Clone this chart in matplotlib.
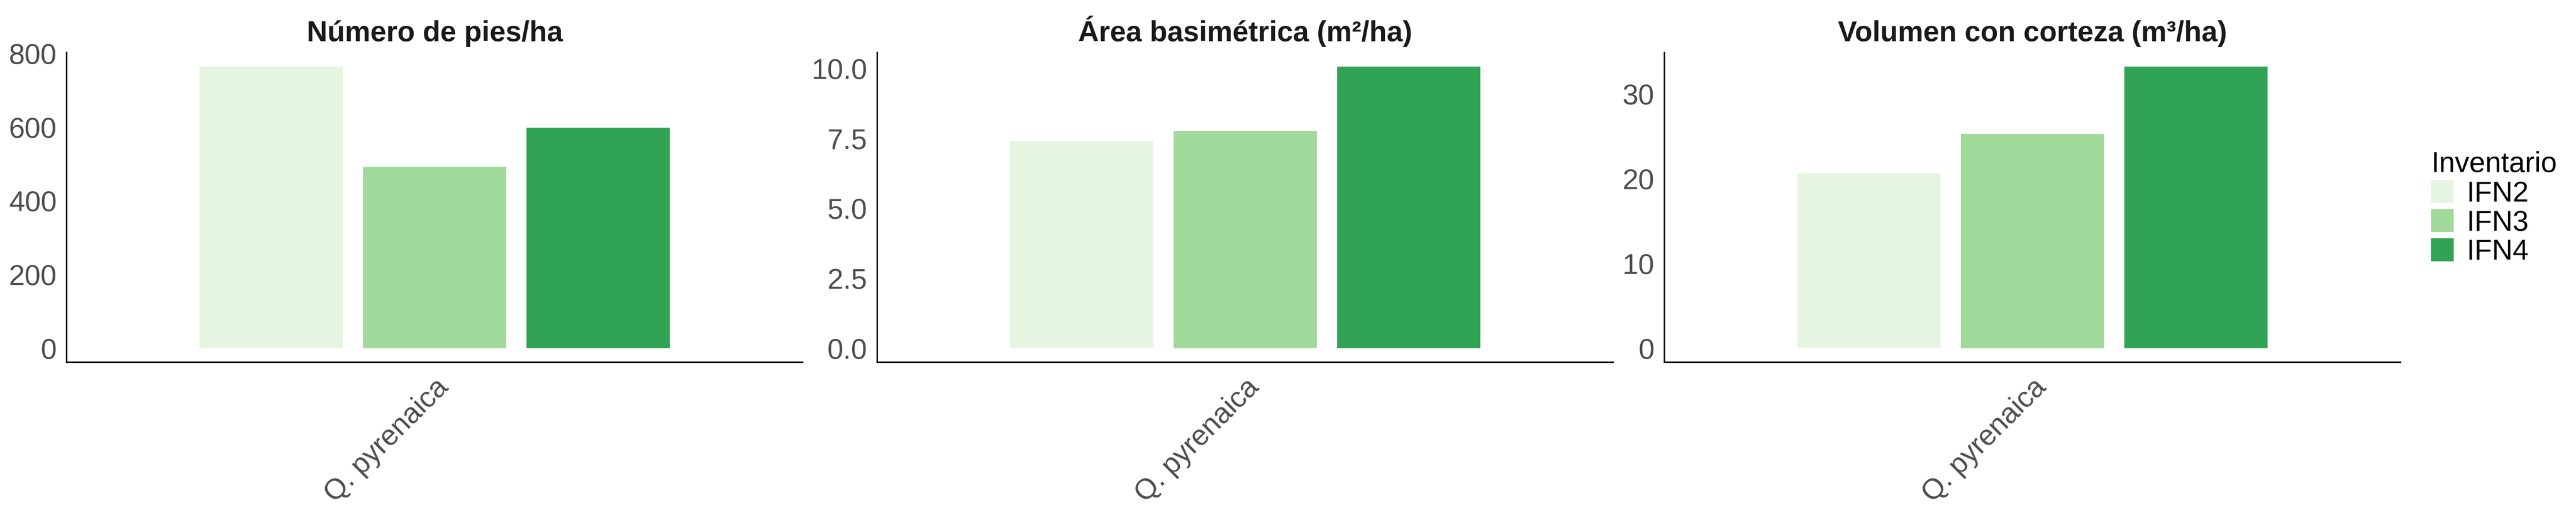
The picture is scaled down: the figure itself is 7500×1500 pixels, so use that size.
import matplotlib
matplotlib.use("Agg")
import matplotlib.pyplot as plt
from matplotlib.patches import Patch
import numpy as np


# =================================================
# DATA
# =================================================

especie = ["Q. pyrenaica"]
inventarios = ["IFN2", "IFN3", "IFN4"]
colores = ["#E5F5E0", "#A1D99B", "#31A354"]

titulos = [
    "Número de pies/ha",
    "Área basimétrica (m²/ha)",
    "Volumen con corteza (m³/ha)",
]

pies_ha = [764, 492, 598]
area_basimetrica = [7.41, 7.77, 10.07]
volumen_cc = [20.6, 25.25, 33.2]

yticks = [
    [0, 200, 400, 600, 800],
    [0.0, 2.5, 5.0, 7.5, 10.0],
    [0, 10, 20, 30],
]
ytick_labels = [
    ["0", "200", "400", "600", "800"],
    ["0.0", "2.5", "5.0", "7.5", "10.0"],
    ["0", "10", "20", "30"],
]


# =================================================
# STYLE
# =================================================

plt.rcParams["font.family"] = ["Liberation Sans", "DejaVu Sans"]

W, H = 7500, 1500
fig = plt.figure(figsize=(25, 5), dpi=300)

# panel positions (pixels in the 7500x1500 canvas)
lefts = [194, 2554, 4846]
panel_w = 2143
top_px, bottom_px = 153, 1055

dodge = 0.8
bar_w = 0.7 / len(inventarios)

series = [pies_ha, area_basimetrica, volumen_cc]

for i, values in enumerate(series):

    ax = fig.add_axes([
        lefts[i] / W,
        1 - bottom_px / H,
        panel_w / W,
        (bottom_px - top_px) / H,
    ])

    x = np.arange(len(especie))

    # -------------------------------------------------
    # dodged bars, one per inventario
    # -------------------------------------------------
    for j, (inv, col) in enumerate(zip(inventarios, colores)):
        offset = (j - (len(inventarios) - 1) / 2) * dodge / len(inventarios)
        ax.bar(x + offset, [values[j]], width=bar_w, color=col,
               label=inv, linewidth=0)

    vmax = max(values)
    ax.set_ylim(-0.05 * vmax, 1.05 * vmax)
    ax.set_xlim(-0.6, len(especie) - 0.4)

    ax.set_yticks(yticks[i])
    ax.set_yticklabels(ytick_labels[i])
    ax.set_xticks(x)
    ax.set_xticklabels(especie, rotation=45, ha="right", va="top",
                       rotation_mode="anchor")

    ax.tick_params(axis="both", length=0, labelsize=20,
                   labelcolor="#4D4D4D")
    ax.tick_params(axis="y", pad=7)
    ax.tick_params(axis="x", pad=8)

    # theme_classic look
    for side in ["top", "right"]:
        ax.spines[side].set_visible(False)
    for side in ["left", "bottom"]:
        ax.spines[side].set_linewidth(1.0)
        ax.spines[side].set_color("black")
        ax.spines[side].set_capstyle("projecting")

    ax.set_title(titulos[i], fontsize=20, fontweight="bold",
                 color="#1A1A1A", pad=8)


# =================================================
# LEGEND
# =================================================

handles = [Patch(facecolor=c, edgecolor="none", label=l)
           for l, c in zip(inventarios, colores)]

fig.legend(
    handles=handles,
    title="Inventario",
    loc="center left",
    bbox_to_anchor=(7078 / W, 1 - 607 / H),
    frameon=False,
    fontsize=20,
    title_fontsize=20,
    handlelength=0.79,
    handleheight=0.86,
    handletextpad=0.45,
    labelspacing=0.07,
    alignment="left",
    borderpad=0,
    borderaxespad=0,
)

fig.savefig("out.png", dpi=300, facecolor="white")
